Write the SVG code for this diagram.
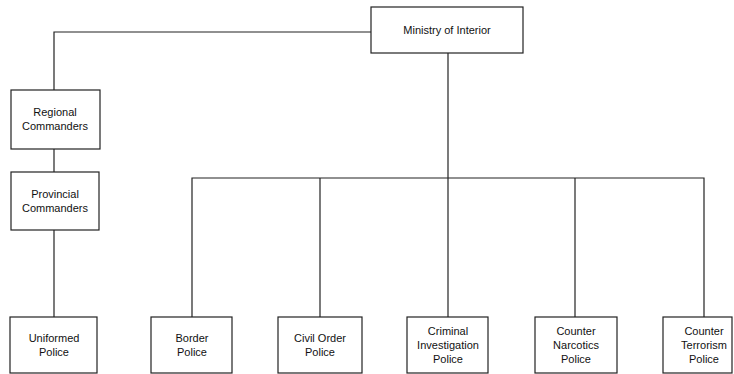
<svg xmlns="http://www.w3.org/2000/svg" width="734" height="374" viewBox="0 0 734 374">
<style>
.box{fill:#fff;stroke:#222;stroke-width:1.2}
.ln{fill:none;stroke:#222;stroke-width:1.2}
text{font-family:"Liberation Sans",Arial,sans-serif;font-size:11px;fill:#111;text-anchor:middle}
</style>
<rect width="734" height="374" fill="#fff"/>
<g id="connectors">
<path class="ln" d="M371,32 H54 V90"/>
<path class="ln" d="M54,149 V172"/>
<path class="ln" d="M54,230 V317"/>
<path class="ln" d="M448,53 V317"/>
<path class="ln" d="M192,317 V178 H704 V317"/>
<path class="ln" d="M320,178 V317"/>
<path class="ln" d="M575,178 V317"/>
</g>
<g id="ministry"><rect class="box" x="371" y="7" width="152" height="46"/><text x="447" y="34">Ministry of Interior</text></g>
<g id="regional"><rect class="box" x="11" y="90" width="89" height="59"/><text x="55" y="116">Regional</text><text x="55" y="130">Commanders</text></g>
<g id="provincial"><rect class="box" x="11" y="172" width="88" height="58"/><text x="55" y="198">Provincial</text><text x="55" y="212">Commanders</text></g>
<g id="uniformed"><rect class="box" x="10" y="317" width="87" height="56"/><text x="54" y="342">Uniformed</text><text x="54" y="356">Police</text></g>
<g id="border"><rect class="box" x="151" y="317" width="81" height="56"/><text x="192" y="342">Border</text><text x="192" y="356">Police</text></g>
<g id="civil"><rect class="box" x="278" y="317" width="84" height="56"/><text x="320" y="342">Civil Order</text><text x="320" y="356">Police</text></g>
<g id="criminal"><rect class="box" x="407" y="317" width="81" height="56"/><text x="448" y="335">Criminal</text><text x="448" y="349">Investigation</text><text x="448" y="363">Police</text></g>
<g id="narcotics"><rect class="box" x="535" y="317" width="82" height="56"/><text x="576" y="335">Counter</text><text x="576" y="349">Narcotics</text><text x="576" y="363">Police</text></g>
<g id="terrorism"><rect class="box" x="663" y="317" width="69" height="56"/><text x="704" y="335">Counter</text><text x="704" y="349">Terrorism</text><text x="704" y="363">Police</text></g>
</svg>
